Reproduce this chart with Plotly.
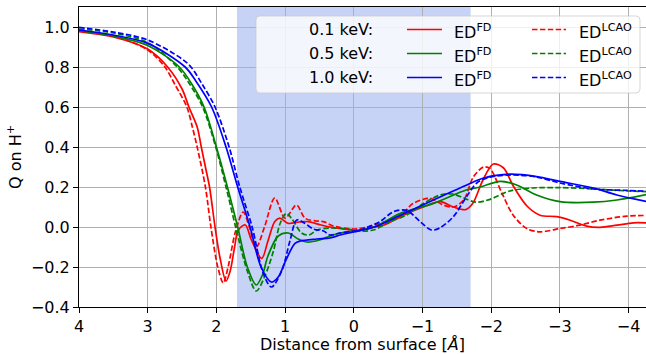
import plotly.graph_objects as go

# ---------------- data ----------------
red_fd_x = [4.0, 3.5, 3.0, 2.71, 2.5, 2.40, 2.28, 2.22, 2.16, 2.10, 2.02, 1.95, 1.86, 1.80, 1.74, 1.68,
            1.58, 1.49, 1.34, 1.25, 1.15, 1.077, 0.956, 0.80, 0.665, 0.5, 0.345, 0.1, -0.09, -0.3,
            -0.43, -0.77, -1.01, -1.256, -1.45, -1.63, -1.73, -1.88, -2.03, -2.18, -2.32, -2.52,
            -2.71, -2.955, -3.15, -3.39, -3.585, -3.83, -4.07, -4.3]
red_fd_y = [0.977, 0.95, 0.89, 0.80, 0.69, 0.60, 0.50, 0.40, 0.30, 0.20, 0.0, -0.15, -0.27, -0.22, -0.11, -0.015,
            0.01, -0.065, -0.157, -0.07, 0.027, 0.044, 0.018, 0.025, 0.027, 0.012, 0.0, -0.012, -0.017, 0.0,
            0.009, 0.067, 0.10, 0.127, 0.10, 0.087, 0.117, 0.235, 0.315, 0.295, 0.205, 0.105,
            0.059, 0.052, 0.034, 0.004, -0.002, 0.009, 0.021, 0.02]

red_lcao_x = [4.0, 3.5, 3.0, 2.75, 2.6, 2.43, 2.35, 2.28, 2.16, 2.08, 1.98, 1.90, 1.83, 1.72, 1.61, 1.52,
              1.42, 1.30, 1.15, 1.0, 0.835, 0.71, 0.55, 0.44, 0.3, 0.0, -0.2, -0.4, -0.67, -0.86, -1.11,
              -1.30, -1.45, -1.6, -1.74, -1.89, -1.98, -2.155, -2.32, -2.52, -2.71, -3.0, -3.29, -3.585,
              -3.97, -4.3]
red_lcao_y = [0.98, 0.955, 0.885, 0.80, 0.71, 0.60, 0.50, 0.40, 0.20, 0.0, -0.20, -0.28, -0.20, -0.02, 0.075, 0.0,
              -0.10, 0.0, 0.145, 0.044, 0.11, 0.044, 0.03, 0.027, 0.005, -0.01, 0.0, 0.02, 0.052, 0.117, 0.143,
              0.11, 0.10, 0.135, 0.25, 0.30, 0.293, 0.17, 0.059, -0.008, -0.024, -0.008, 0.009, 0.034,
              0.054, 0.058]

green_fd_x = [4.0, 3.5, 3.0, 2.54, 2.35, 2.18, 2.0, 1.84, 1.69, 1.55, 1.42, 1.33, 1.25, 1.10, 0.956, 0.81,
              0.68, 0.5, 0.345, 0.2, 0.0, -0.3, -0.67, -1.16, -1.645, -1.84, -2.13, -2.37, -2.66, -3.0,
              -3.49, -3.83, -4.3]
green_fd_y = [0.982, 0.955, 0.908, 0.80, 0.71, 0.60, 0.40, 0.20, 0.0, -0.20, -0.29, -0.24, -0.145, -0.045, -0.03, -0.06,
              -0.075, -0.065, -0.045, -0.03, -0.02, 0.0, 0.067, 0.118, 0.186, 0.20, 0.228, 0.21, 0.16, 0.127,
              0.124, 0.135, 0.165]

green_lcao_x = [4.0, 3.5, 3.0, 2.57, 2.4, 2.20, 2.01, 1.86, 1.72, 1.55, 1.42, 1.30, 1.17, 1.07, 0.98, 0.90,
                0.76, 0.65, 0.54, 0.35, 0.1, -0.1, -0.285, -0.53, -0.77, -1.01, -1.256, -1.44, -1.6, -1.78,
                -1.97, -2.27, -2.6, -3.0, -3.5, -4.0, -4.3]
green_lcao_y = [0.99, 0.97, 0.922, 0.80, 0.72, 0.60, 0.40, 0.20, 0.0, -0.22, -0.32, -0.25, -0.12, 0.02, 0.068, 0.04,
                -0.03, -0.04, -0.016, -0.005, -0.01, -0.02, -0.015, 0.027, 0.06, 0.117, 0.16, 0.165, 0.145, 0.124,
                0.137, 0.18, 0.195, 0.197, 0.19, 0.18, 0.177]

blue_fd_x = [4.0, 3.5, 3.0, 2.455, 2.3, 2.07, 1.86, 1.69, 1.51, 1.35, 1.20, 1.10, 1.0, 0.86, 0.78, 0.54,
             0.345, 0.2, 0.0, -0.3, -0.67, -1.16, -1.645, -1.89, -2.27, -2.66, -3.0, -3.49, -3.83, -4.3]
blue_fd_y = [0.985, 0.96, 0.918, 0.80, 0.73, 0.60, 0.40, 0.20, 0.0, -0.2, -0.275, -0.25, -0.175, -0.083, -0.07, -0.06,
             -0.055, -0.04, -0.025, 0.0, 0.058, 0.135, 0.21, 0.245, 0.264, 0.252, 0.228, 0.195, 0.16, 0.125]

blue_lcao_x = [4.0, 3.5, 3.0, 2.5, 2.37, 2.2, 2.02, 1.815, 1.66, 1.48, 1.32, 1.20, 1.05, 0.93, 0.83, 0.72,
               0.59, 0.44, 0.35, 0.2, 0.0, -0.09, -0.38, -0.58, -0.77, -0.965, -1.13, -1.25, -1.45, -1.645,
               -1.79, -1.94, -2.08, -2.32, -2.66, -3.0, -3.49, -3.97, -4.3]
blue_lcao_y = [0.998, 0.975, 0.935, 0.84, 0.80, 0.71, 0.60, 0.40, 0.20, 0.0, -0.23, -0.30, -0.22, -0.07, 0.035, 0.02,
               -0.01, -0.02, -0.04, -0.03, -0.02, -0.015, 0.027, 0.077, 0.083, 0.027, -0.015, -0.005, 0.052, 0.154,
               0.22, 0.245, 0.255, 0.26, 0.25, 0.22, 0.19, 0.183, 0.178]

energies = ["0.1 keV:", "0.5 keV:", "1.0 keV:"]
colors = ["#ff0000", "#008000", "#0000ff"]
fd_label = "ED<sup>FD</sup>"
lcao_label = "ED<sup>LCAO</sup>"

x_ticks = [4, 3, 2, 1, 0, -1, -2, -3, -4]
y_ticks = [-0.4, -0.2, 0.0, 0.2, 0.4, 0.6, 0.8, 1.0]
region = (1.7, -1.7)

# ---------------- figure ----------------
W, H = 646, 354
ML, MR, MT, MB = 79, 0, 7, 47
LW = 1.7
DASH = "5.5px,2.4px"
FS = 16

fig = go.Figure()
series = [
    (red_fd_x, red_fd_y, colors[0], "solid"),
    (red_lcao_x, red_lcao_y, colors[0], DASH),
    (green_fd_x, green_fd_y, colors[1], "solid"),
    (green_lcao_x, green_lcao_y, colors[1], DASH),
    (blue_fd_x, blue_fd_y, colors[2], "solid"),
    (blue_lcao_x, blue_lcao_y, colors[2], DASH),
]
for xs, ys, c, d in series:
    fig.add_trace(go.Scatter(x=xs, y=ys, mode="lines",
                             line=dict(color=c, width=LW, dash=d, shape="spline", smoothing=0.9),
                             hoverinfo="skip"))

def fmt(v):
    s = f"{v:.1f}" if isinstance(v, float) else str(v)
    return s.replace("-", "\u2212")

fig.update_layout(
    width=W, height=H,
    margin=dict(l=ML, r=MR, t=MT, b=MB),
    plot_bgcolor="white", paper_bgcolor="white",
    font=dict(family="DejaVu Sans", size=FS, color="black"),
    showlegend=False,
)
fig.update_xaxes(
    range=[4, -4.253], tickvals=x_ticks, ticktext=[fmt(v) for v in x_ticks],
    showgrid=True, gridcolor="#b0b0b0", gridwidth=1, zeroline=False,
    ticks="outside", ticklen=5, tickcolor="black", tickwidth=1,
    showline=True, linecolor="black", linewidth=1, mirror=True,
    tickfont=dict(size=FS),
    title=dict(text="Distance from surface [<i>Å</i>]", standoff=4, font=dict(size=FS)),
)
fig.update_yaxes(
    range=[-0.4, 1.1], tickvals=y_ticks, ticktext=[fmt(v) for v in y_ticks],
    showgrid=True, gridcolor="#b0b0b0", gridwidth=1, zeroline=False,
    ticks="outside", ticklen=5, tickcolor="black", tickwidth=1,
    showline=True, linecolor="black", linewidth=1,
    tickfont=dict(size=FS),
    title=dict(text="Q on H<sup>+</sup>", standoff=5, font=dict(size=FS)),
)

# shaded region (below gridlines)
fig.add_shape(type="rect", xref="x", yref="paper", x0=region[0], x1=region[1], y0=0, y1=1,
              fillcolor="rgba(65,105,225,0.3)", line=dict(width=0), layer="below")

# ---------------- manual legend ----------------
PW = W - ML - MR
PH = H - MT - MB

def px(xp):
    return (xp - ML) / PW

def py(yp):
    return (H - MB - yp) / PH

bx0, bx1, by0, by1, r = 256, 640, 16, 93, 4
path = (f"M {px(bx0 + r)},{py(by0)} L {px(bx1 - r)},{py(by0)} "
        f"Q {px(bx1)},{py(by0)} {px(bx1)},{py(by0 + r)} L {px(bx1)},{py(by1 - r)} "
        f"Q {px(bx1)},{py(by1)} {px(bx1 - r)},{py(by1)} L {px(bx0 + r)},{py(by1)} "
        f"Q {px(bx0)},{py(by1)} {px(bx0)},{py(by1 - r)} L {px(bx0)},{py(by0 + r)} "
        f"Q {px(bx0)},{py(by0)} {px(bx0 + r)},{py(by0)} Z")
fig.add_shape(type="path", xref="paper", yref="paper", path=path,
              fillcolor="rgba(255,255,255,0.8)", line=dict(color="rgba(204,204,204,0.8)", width=1),
              layer="above")

rows_y = [29.5, 53.5, 77.5]
for i, (lab, c) in enumerate(zip(energies, colors)):
    yy = rows_y[i]
    fig.add_annotation(xref="paper", yref="paper", x=px(307), y=py(yy), text=lab,
                       showarrow=False, xanchor="left", yanchor="middle", font=dict(size=FS))
    fig.add_shape(type="line", xref="paper", yref="paper", x0=px(407), x1=px(442), y0=py(yy), y1=py(yy),
                  line=dict(color=c, width=LW), layer="above")
    fig.add_annotation(xref="paper", yref="paper", x=px(452), y=py(yy + 2), text=fd_label,
                       showarrow=False, xanchor="left", yanchor="middle", font=dict(size=FS))
    fig.add_shape(type="line", xref="paper", yref="paper", x0=px(532), x1=px(566), y0=py(yy), y1=py(yy),
                  line=dict(color=c, width=LW, dash=DASH), layer="above")
    fig.add_annotation(xref="paper", yref="paper", x=px(577), y=py(yy + 2), text=lcao_label,
                       showarrow=False, xanchor="left", yanchor="middle", font=dict(size=FS))

fig.write_html("out.html")
